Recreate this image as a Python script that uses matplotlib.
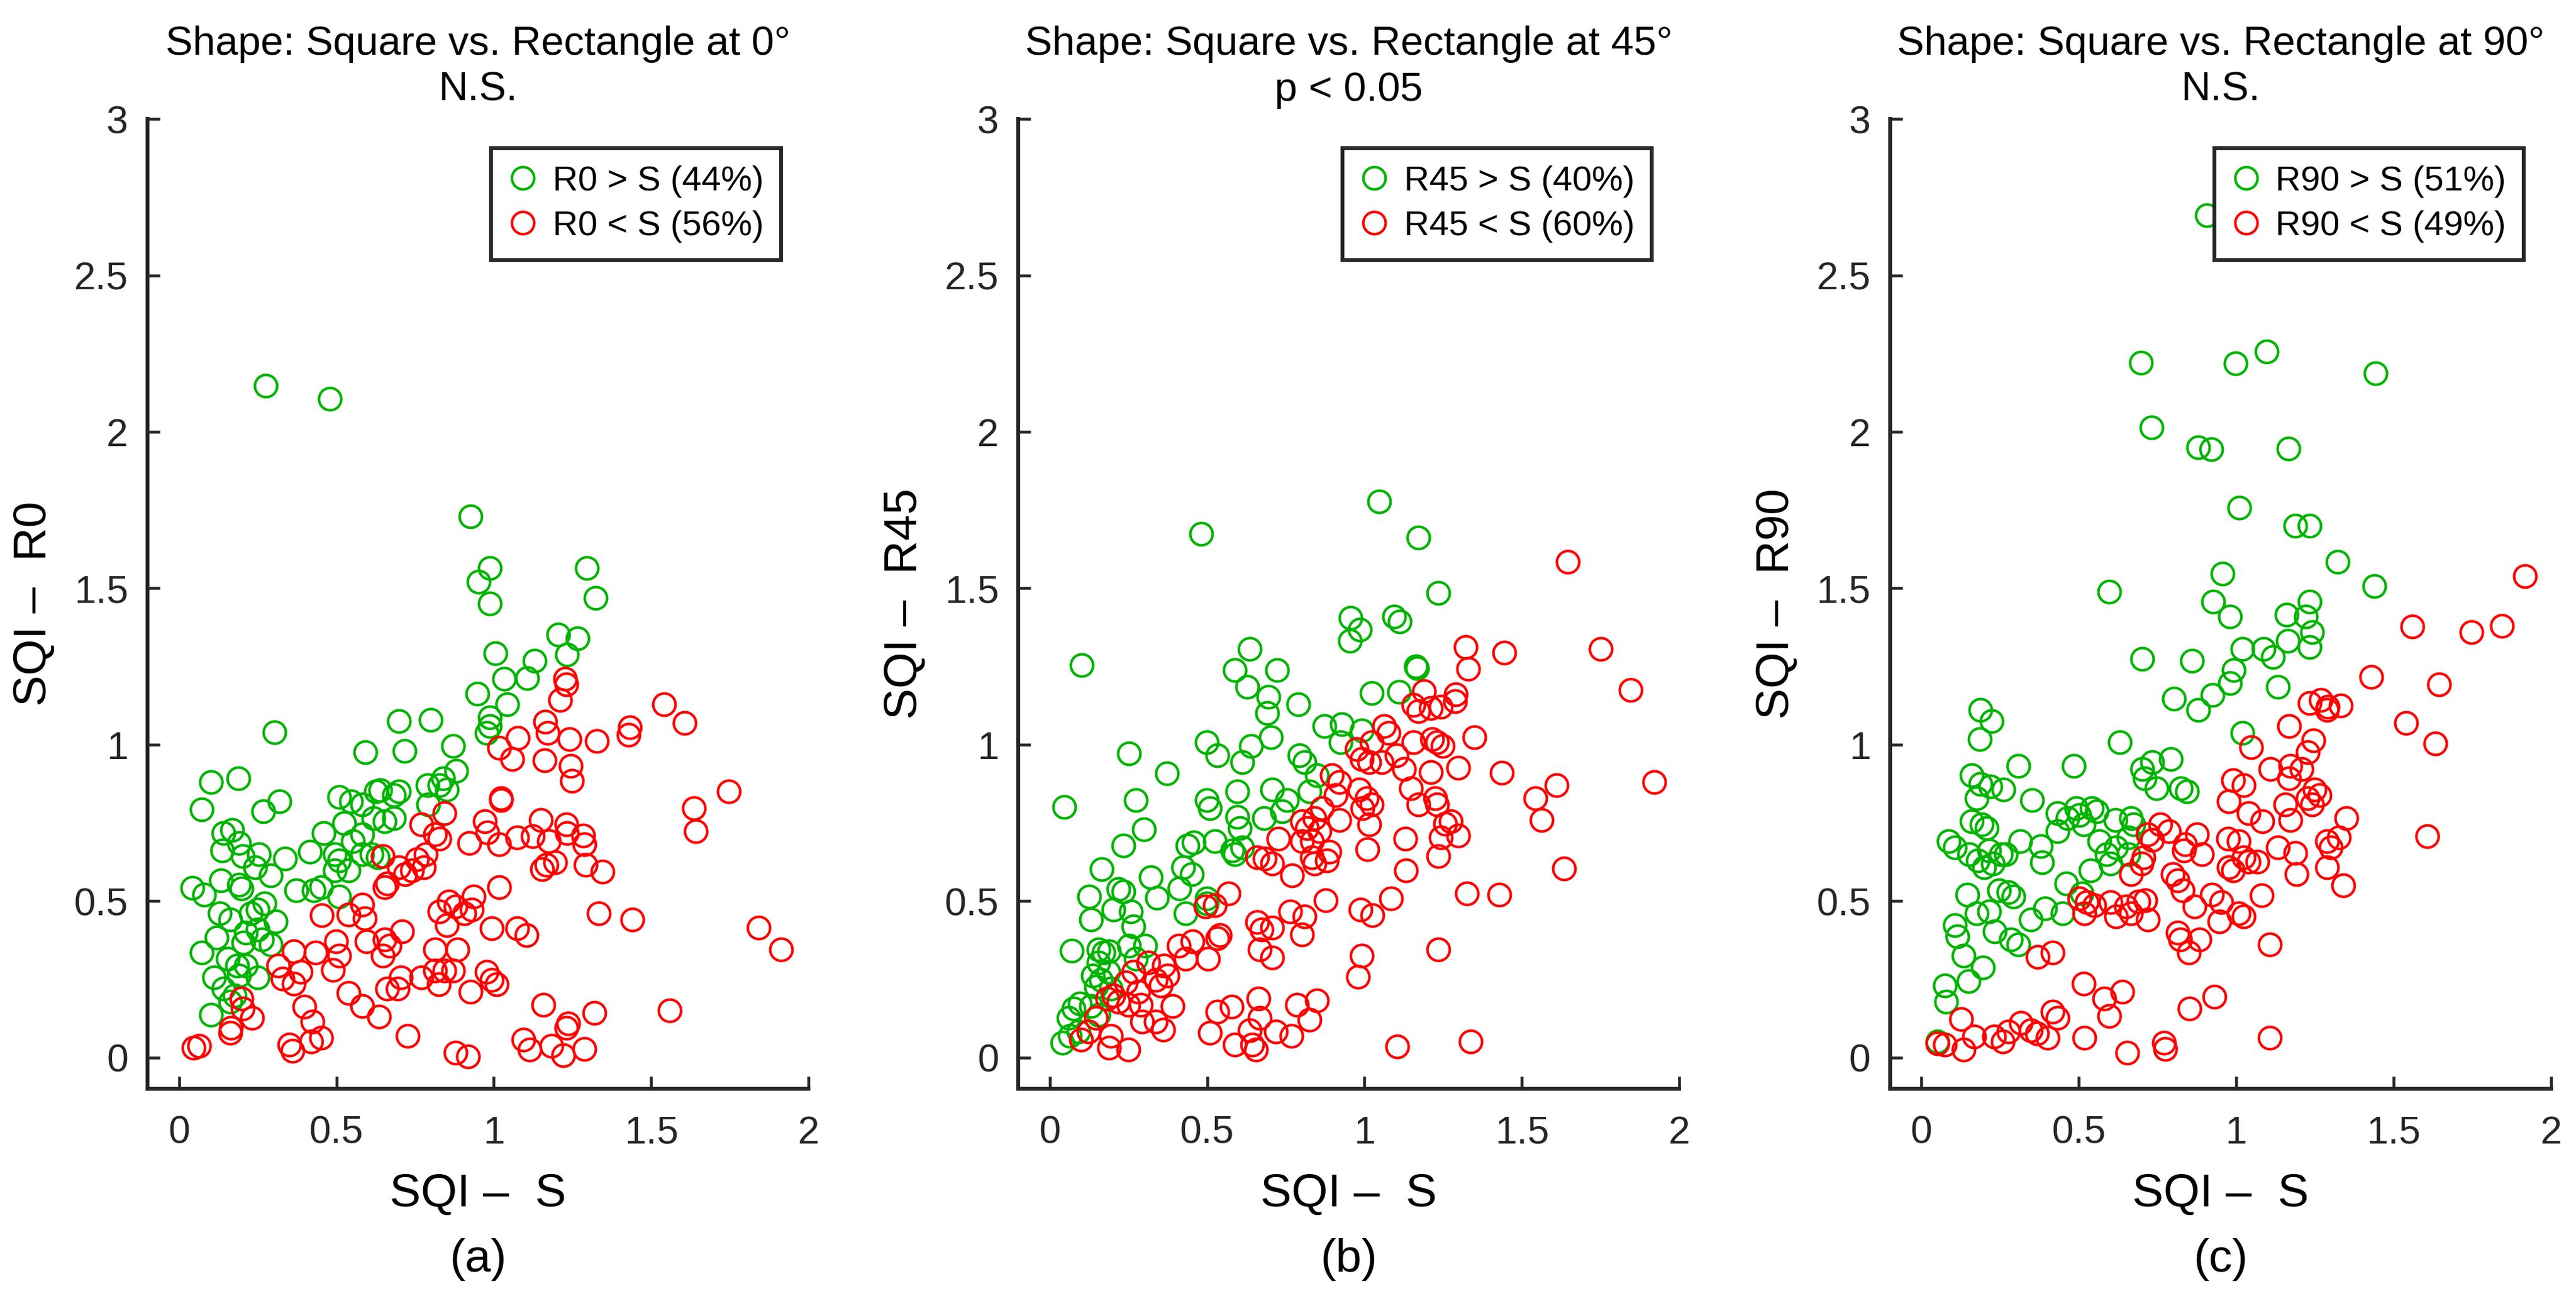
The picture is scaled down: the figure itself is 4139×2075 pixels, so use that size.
import matplotlib
matplotlib.use("Agg")
import matplotlib.pyplot as plt

plt.rcParams["font.family"] = ["Liberation Sans", "DejaVu Sans"]

# ---- data ---------------------------------------------------------------
titles = ["Shape: Square vs. Rectangle at 0°\nN.S.",
          "Shape: Square vs. Rectangle at 45°\np < 0.05",
          "Shape: Square vs. Rectangle at 90°\nN.S."]
ylabels = ["SQI –  R0", "SQI –  R45", "SQI –  R90"]
xlabel = "SQI –  S"
panel_tags = ["(a)", "(b)", "(c)"]
legend_gt = ["R0 > S (44%)", "R45 > S (40%)", "R90 > S (51%)"]
legend_lt = ["R0 < S (56%)", "R45 < S (60%)", "R90 < S (49%)"]
xticks = [0, 0.5, 1, 1.5, 2]
yticks = [0, 0.5, 1, 1.5, 2, 2.5, 3]

# panel (a) : R0
a_gt_x = [0.275, 0.48, 0.926, 0.987, 0.951, 0.987, 1.295, 1.324, 1.204, 1.266,
          1.233, 1.004, 1.129, 1.033, 1.106, 0.948, 1.042, 0.987, 0.987, 0.977,
          0.698, 0.799, 0.304, 0.592, 0.716, 0.871, 0.881, 0.839, 0.828, 0.789,
          0.850, 0.791, 0.101, 0.188, 0.072, 0.268, 0.318, 0.509, 0.546, 0.582,
          0.625, 0.640, 0.698, 0.683, 0.618, 0.654, 0.683, 0.524, 0.582, 0.553,
          0.459, 0.140, 0.169, 0.191, 0.136, 0.203, 0.253, 0.242, 0.336, 0.415,
          0.495, 0.509, 0.495, 0.538, 0.582, 0.632, 0.611, 0.292, 0.133, 0.191,
          0.198, 0.042, 0.080, 0.372, 0.427, 0.451, 0.509, 0.129, 0.162, 0.249,
          0.271, 0.227, 0.307, 0.213, 0.249, 0.263, 0.205, 0.119, 0.292, 0.071,
          0.155, 0.184, 0.213, 0.191, 0.111, 0.249, 0.140, 0.177, 0.162, 0.101]
a_gt_y = [2.148, 2.106, 1.729, 1.565, 1.521, 1.452, 1.565, 1.470, 1.351, 1.340,
          1.288, 1.292, 1.269, 1.210, 1.212, 1.162, 1.129, 1.087, 1.059, 1.038,
          1.076, 1.080, 1.040, 0.975, 0.980, 0.996, 0.917, 0.892, 0.871, 0.871,
          0.856, 0.808, 0.881, 0.892, 0.793, 0.787, 0.818, 0.833, 0.818, 0.808,
          0.850, 0.854, 0.850, 0.839, 0.766, 0.755, 0.766, 0.749, 0.713, 0.692,
          0.717, 0.717, 0.728, 0.686, 0.661, 0.644, 0.650, 0.608, 0.636, 0.657,
          0.650, 0.629, 0.598, 0.598, 0.650, 0.640, 0.650, 0.583, 0.566, 0.552,
          0.541, 0.543, 0.520, 0.535, 0.535, 0.545, 0.514, 0.461, 0.440, 0.472,
          0.493, 0.461, 0.436, 0.399, 0.409, 0.378, 0.367, 0.384, 0.361, 0.336,
          0.315, 0.294, 0.294, 0.262, 0.256, 0.256, 0.220, 0.199, 0.178, 0.136]
a_lt_x = [1.226, 1.230, 1.211, 1.540, 1.606, 1.163, 1.172, 1.077, 1.240, 1.327,
          1.433, 1.429, 1.016, 1.059, 1.161, 1.245, 1.248, 1.747, 1.023, 1.023,
          1.635, 1.642, 0.842, 0.770, 0.813, 0.828, 0.921, 0.972, 0.979, 1.016,
          1.074, 1.124, 1.149, 1.175, 1.230, 1.233, 1.284, 1.288, 1.291, 1.346,
          1.153, 1.168, 1.194, 0.647, 0.661, 0.654, 0.698, 0.719, 0.741, 0.755,
          0.777, 0.784, 1.016, 1.334, 1.440, 0.454, 0.538, 0.582, 0.589, 0.828,
          0.856, 0.878, 0.907, 0.936, 0.929, 0.850, 0.994, 1.074, 1.103, 1.841,
          1.913, 0.365, 0.434, 0.499, 0.509, 0.596, 0.654, 0.668, 0.647, 0.709,
          0.813, 0.885, 0.314, 0.386, 0.328, 0.365, 0.488, 0.770, 0.813, 0.842,
          0.825, 0.871, 0.977, 0.994, 1.009, 0.926, 0.661, 0.694, 0.705, 0.538,
          0.582, 0.635, 0.397, 0.423, 0.198, 0.203, 0.232, 0.165, 0.162, 1.158,
          1.237, 1.230, 1.320, 1.559, 0.726, 0.451, 0.420, 0.350, 0.360, 0.046,
          0.064, 0.878, 0.918, 1.093, 1.114, 1.182, 1.221, 1.288]
a_lt_y = [1.210, 1.192, 1.143, 1.129, 1.070, 1.074, 1.038, 1.022, 1.017, 1.011,
          1.055, 1.032, 0.990, 0.954, 0.950, 0.933, 0.885, 0.850, 0.829, 0.822,
          0.797, 0.724, 0.782, 0.745, 0.713, 0.699, 0.686, 0.755, 0.720, 0.682,
          0.703, 0.707, 0.759, 0.692, 0.745, 0.717, 0.709, 0.682, 0.615, 0.594,
          0.602, 0.615, 0.623, 0.644, 0.556, 0.545, 0.608, 0.587, 0.598, 0.634,
          0.608, 0.650, 0.545, 0.461, 0.440, 0.455, 0.457, 0.489, 0.445, 0.466,
          0.499, 0.482, 0.461, 0.514, 0.472, 0.424, 0.413, 0.413, 0.392, 0.415,
          0.346, 0.340, 0.336, 0.371, 0.325, 0.371, 0.378, 0.357, 0.325, 0.403,
          0.346, 0.346, 0.294, 0.273, 0.252, 0.237, 0.279, 0.256, 0.277, 0.277,
          0.235, 0.277, 0.273, 0.248, 0.235, 0.210, 0.220, 0.220, 0.256, 0.206,
          0.164, 0.130, 0.162, 0.115, 0.189, 0.157, 0.126, 0.094, 0.080, 0.168,
          0.109, 0.094, 0.143, 0.151, 0.069, 0.063, 0.052, 0.042, 0.021, 0.031,
          0.038, 0.015, 0.004, 0.057, 0.025, 0.038, 0.008, 0.027]

# panel (b) : R45
b_gt_x = [1.046, 0.481, 1.172, 1.235, 0.101, 0.956, 0.986, 0.953, 1.093, 1.112,
          0.636, 0.588, 0.722, 0.628, 1.164, 1.167, 1.022, 1.109, 0.694, 0.691,
          0.790, 0.252, 0.372, 0.498, 0.533, 0.640, 0.612, 0.703, 0.872, 0.927,
          0.924, 0.991, 0.793, 0.809, 0.849, 0.047, 0.273, 0.300, 0.498, 0.509,
          0.596, 0.596, 0.604, 0.707, 0.754, 0.738, 0.680, 0.825, 0.525, 0.580,
          0.612, 0.588, 0.233, 0.438, 0.457, 0.423, 0.451, 0.320, 0.341, 0.412,
          0.431, 0.164, 0.126, 0.132, 0.218, 0.233, 0.202, 0.257, 0.265, 0.498,
          0.498, 0.069, 0.155, 0.170, 0.189, 0.155, 0.252, 0.304, 0.273, 0.136,
          0.162, 0.186, 0.147, 0.194, 0.095, 0.076, 0.060, 0.131, 0.155, 0.041,
          0.063, 0.091]
b_gt_y = [1.777, 1.674, 1.661, 1.485, 1.254, 1.405, 1.368, 1.332, 1.410, 1.393,
          1.305, 1.238, 1.238, 1.185, 1.250, 1.244, 1.164, 1.168, 1.153, 1.101,
          1.129, 0.971, 0.908, 1.007, 0.965, 0.996, 0.944, 1.024, 1.059, 1.066,
          1.007, 1.045, 0.965, 0.944, 0.902, 0.801, 0.822, 0.730, 0.822, 0.797,
          0.850, 0.770, 0.734, 0.856, 0.822, 0.787, 0.766, 0.850, 0.692, 0.661,
          0.671, 0.650, 0.678, 0.678, 0.688, 0.608, 0.587, 0.577, 0.510, 0.541,
          0.461, 0.602, 0.514, 0.440, 0.539, 0.531, 0.472, 0.466, 0.420, 0.508,
          0.493, 0.342, 0.346, 0.336, 0.340, 0.304, 0.357, 0.357, 0.315, 0.262,
          0.248, 0.273, 0.227, 0.220, 0.172, 0.157, 0.126, 0.164, 0.136, 0.048,
          0.069, 0.084]
b_lt_x = [1.645, 1.751, 1.322, 1.443, 1.330, 1.845, 1.290, 1.287, 1.188, 1.156,
          1.172, 1.211, 1.243, 1.062, 1.076, 1.349, 1.215, 1.230, 1.248, 1.156,
          0.975, 1.022, 0.991, 1.014, 1.054, 1.101, 1.125, 1.211, 1.298, 1.437,
          1.610, 1.921, 1.543, 1.562, 1.148, 1.172, 1.224, 1.230, 0.896, 0.920,
          0.909, 0.983, 1.006, 1.022, 0.994, 0.864, 0.920, 1.014, 0.841, 0.801,
          0.817, 0.857, 0.833, 0.801, 1.256, 1.274, 1.298, 1.243, 1.235, 1.129,
          1.009, 1.634, 1.132, 0.726, 0.659, 0.683, 0.707, 0.833, 0.841, 0.880,
          0.770, 0.888, 0.877, 1.326, 1.429, 1.085, 0.987, 1.025, 0.568, 0.525,
          0.494, 0.763, 0.809, 0.659, 0.672, 0.707, 0.801, 0.541, 0.533, 0.454,
          0.502, 0.410, 0.431, 0.667, 0.707, 1.235, 0.991, 0.980, 0.312, 0.363,
          0.375, 0.336, 0.352, 0.265, 0.241, 0.202, 0.183, 0.218, 0.281, 0.289,
          0.249, 0.391, 0.336, 0.360, 0.293, 0.147, 0.123, 0.099, 0.194, 0.189,
          0.249, 0.533, 0.577, 0.662, 0.667, 0.785, 0.825, 0.849, 0.509, 0.588,
          0.636, 0.644, 0.656, 0.719, 0.767, 1.104, 1.338]
b_lt_y = [1.584, 1.305, 1.311, 1.294, 1.242, 1.175, 1.160, 1.139, 1.170, 1.128,
          1.107, 1.118, 1.122, 1.059, 1.038, 1.024, 1.017, 1.007, 0.996, 1.007,
          0.986, 1.007, 0.954, 0.944, 0.944, 0.965, 0.923, 0.912, 0.927, 0.910,
          0.871, 0.881, 0.829, 0.759, 0.860, 0.808, 0.829, 0.808, 0.902, 0.881,
          0.839, 0.856, 0.829, 0.808, 0.797, 0.797, 0.759, 0.745, 0.766, 0.755,
          0.734, 0.724, 0.692, 0.692, 0.747, 0.755, 0.709, 0.703, 0.644, 0.699,
          0.665, 0.604, 0.598, 0.699, 0.640, 0.636, 0.619, 0.640, 0.619, 0.629,
          0.583, 0.657, 0.503, 0.524, 0.520, 0.508, 0.472, 0.455, 0.524, 0.487,
          0.482, 0.466, 0.451, 0.434, 0.409, 0.415, 0.394, 0.392, 0.382, 0.371,
          0.315, 0.357, 0.315, 0.346, 0.319, 0.346, 0.325, 0.258, 0.304, 0.294,
          0.262, 0.248, 0.231, 0.273, 0.241, 0.199, 0.189, 0.178, 0.210, 0.168,
          0.168, 0.164, 0.115, 0.090, 0.115, 0.126, 0.084, 0.057, 0.069, 0.031,
          0.025, 0.147, 0.162, 0.189, 0.126, 0.168, 0.120, 0.182, 0.080, 0.042,
          0.088, 0.042, 0.025, 0.084, 0.069, 0.036, 0.052]

# panel (c) : R90
c_gt_x = [0.907, 0.697, 0.997, 1.096, 1.443, 0.731, 0.879, 0.921, 1.166, 1.009,
          1.187, 1.233, 1.322, 0.596, 0.956, 1.439, 0.927, 0.980, 1.160, 1.233,
          1.222, 1.241, 1.163, 1.233, 1.019, 1.086, 1.117, 0.701, 0.860, 0.992,
          0.980, 1.132, 0.802, 0.925, 0.879, 1.019, 0.631, 0.187, 0.222, 0.185,
          0.308, 0.484, 0.701, 0.733, 0.793, 0.709, 0.746, 0.824, 0.844, 0.160,
          0.187, 0.218, 0.261, 0.176, 0.351, 0.432, 0.463, 0.491, 0.502, 0.515,
          0.541, 0.557, 0.616, 0.666, 0.673, 0.432, 0.160, 0.191, 0.207, 0.086,
          0.106, 0.314, 0.378, 0.565, 0.588, 0.619, 0.658, 0.152, 0.215, 0.179,
          0.199, 0.227, 0.253, 0.269, 0.383, 0.600, 0.538, 0.658, 0.145, 0.246,
          0.277, 0.292, 0.460, 0.510, 0.106, 0.114, 0.134, 0.176, 0.215, 0.233,
          0.347, 0.393, 0.448, 0.285, 0.308, 0.196, 0.149, 0.075, 0.078, 0.051]
c_gt_y = [2.692, 2.220, 2.218, 2.256, 2.186, 2.014, 1.951, 1.945, 1.947, 1.758,
          1.699, 1.699, 1.584, 1.489, 1.546, 1.506, 1.458, 1.410, 1.416, 1.458,
          1.410, 1.359, 1.332, 1.311, 1.305, 1.305, 1.280, 1.275, 1.269, 1.238,
          1.196, 1.185, 1.147, 1.158, 1.112, 1.038, 1.007, 1.112, 1.076, 1.017,
          0.933, 0.933, 0.923, 0.944, 0.954, 0.892, 0.860, 0.860, 0.850, 0.902,
          0.875, 0.866, 0.856, 0.829, 0.822, 0.782, 0.766, 0.797, 0.776, 0.745,
          0.797, 0.787, 0.759, 0.766, 0.745, 0.724, 0.755, 0.745, 0.734, 0.692,
          0.671, 0.692, 0.675, 0.692, 0.650, 0.671, 0.703, 0.650, 0.661, 0.629,
          0.608, 0.619, 0.650, 0.650, 0.623, 0.619, 0.598, 0.650, 0.520, 0.535,
          0.529, 0.514, 0.556, 0.524, 0.424, 0.388, 0.325, 0.461, 0.466, 0.403,
          0.440, 0.476, 0.461, 0.378, 0.361, 0.288, 0.245, 0.231, 0.178, 0.052]
c_lt_x = [1.918, 1.560, 1.747, 1.844, 1.428, 1.645, 1.540, 1.633, 1.607, 1.233,
          1.269, 1.291, 1.331, 1.288, 1.168, 1.245, 1.227, 1.047, 1.109, 1.171,
          1.207, 1.168, 0.989, 1.023, 1.249, 1.264, 1.227, 1.241, 0.977, 1.156,
          1.039, 1.082, 1.171, 1.350, 0.759, 0.787, 0.720, 0.733, 0.876, 0.837,
          0.974, 1.008, 1.327, 1.288, 1.300, 1.132, 1.187, 0.705, 0.700, 0.891,
          0.834, 1.023, 1.039, 1.067, 0.989, 0.977, 0.666, 0.798, 0.813, 1.191,
          1.288, 1.339, 0.829, 0.922, 0.953, 0.868, 1.081, 0.502, 0.526, 0.549,
          0.518, 0.600, 0.619, 0.666, 0.689, 0.712, 0.720, 0.650, 0.946, 1.008,
          1.023, 0.813, 0.821, 0.883, 0.849, 1.106, 0.370, 0.417, 0.515, 0.580,
          0.596, 0.638, 0.852, 0.930, 0.417, 0.432, 0.126, 0.168, 0.134, 0.230,
          0.258, 0.277, 0.316, 0.347, 0.367, 0.401, 0.051, 0.075, 0.518, 0.653,
          0.771, 0.774, 1.106]
c_lt_y = [1.538, 1.378, 1.359, 1.380, 1.217, 1.192, 1.070, 1.003, 0.707, 1.133,
          1.143, 1.122, 1.126, 1.112, 1.059, 1.013, 0.975, 0.992, 0.923, 0.933,
          0.923, 0.892, 0.887, 0.871, 0.856, 0.839, 0.829, 0.808, 0.818, 0.808,
          0.782, 0.755, 0.759, 0.766, 0.745, 0.724, 0.713, 0.696, 0.713, 0.682,
          0.699, 0.692, 0.703, 0.692, 0.671, 0.671, 0.654, 0.640, 0.619, 0.650,
          0.661, 0.640, 0.625, 0.625, 0.598, 0.608, 0.587, 0.587, 0.566, 0.587,
          0.608, 0.550, 0.535, 0.520, 0.497, 0.482, 0.518, 0.508, 0.497, 0.487,
          0.461, 0.497, 0.451, 0.461, 0.499, 0.503, 0.440, 0.482, 0.436, 0.461,
          0.451, 0.399, 0.378, 0.378, 0.336, 0.361, 0.321, 0.336, 0.237, 0.189,
          0.132, 0.210, 0.157, 0.195, 0.147, 0.126, 0.122, 0.067, 0.025, 0.067,
          0.052, 0.084, 0.111, 0.088, 0.078, 0.063, 0.046, 0.042, 0.063, 0.015,
          0.048, 0.027, 0.063]

panels = [
    (a_gt_x, a_gt_y, a_lt_x, a_lt_y),
    (b_gt_x, b_gt_y, b_lt_x, b_lt_y),
    (c_gt_x, c_gt_y, c_lt_x, c_lt_y),
]

GREEN = "#00b400"
RED = "#ff0000"
AXCOL = "#262626"

fig = plt.figure(figsize=(4139 / 300, 2075 / 300), dpi=300)
lefts = [0.0573, 0.3953, 0.7337]
width, bottom, height = 0.2566, 0.1566, 0.7513

for i, (gx, gy, rx, ry) in enumerate(panels):
    ax = fig.add_axes([lefts[i], bottom, width, height])
    ax.plot(gx, gy, "o", ls="none", mfc="none", mec=GREEN, ms=8.6, mew=1.0,
            label=legend_gt[i])
    ax.plot(rx, ry, "o", ls="none", mfc="none", mec=RED, ms=8.6, mew=1.0,
            label=legend_lt[i])

    ax.set_xlim(-0.1, 2)
    ax.set_ylim(-0.1, 3)
    ax.set_xticks(xticks)
    ax.set_xticklabels(["0", "0.5", "1", "1.5", "2"])
    ax.set_yticks(yticks)
    ax.set_yticklabels(["0", "0.5", "1", "1.5", "2", "2.5", "3"])
    for s in ["top", "right"]:
        ax.spines[s].set_visible(False)
    for s in ["left", "bottom"]:
        ax.spines[s].set_linewidth(1.5)
        ax.spines[s].set_color(AXCOL)
    ax.tick_params(direction="in", length=4.8, width=1.1, color=AXCOL,
                   labelcolor=AXCOL, labelsize=15)
    ax.tick_params(axis="x", pad=10)
    ax.tick_params(axis="y", pad=7.5)

    ax.set_title(titles[i], fontsize=15.7, linespacing=1.3, pad=7)
    ax.set_xlabel(xlabel, fontsize=18)
    ax.xaxis.set_label_coords(0.5, -0.109)
    ax.xaxis.label.set_va("center")
    ax.set_ylabel(ylabels[i], fontsize=18)
    ax.yaxis.set_label_coords(-0.172, 0.5)
    ax.yaxis.label.set_va("center")

    leg = ax.legend(loc="upper right", bbox_to_anchor=(0.9586, 0.970),
                    borderaxespad=0, fontsize=13.5, numpoints=1,
                    handlelength=0.8, handletextpad=0.45, borderpad=0.5,
                    labelspacing=0.35, fancybox=False, framealpha=1)
    leg.get_frame().set_edgecolor(AXCOL)
    leg.get_frame().set_linewidth(1.5)
    leg.set_zorder(5)

    fig.text(lefts[i] + width / 2, 0.0241, panel_tags[i], fontsize=18,
             ha="center", va="center")

fig.savefig("out.png", dpi=300)
